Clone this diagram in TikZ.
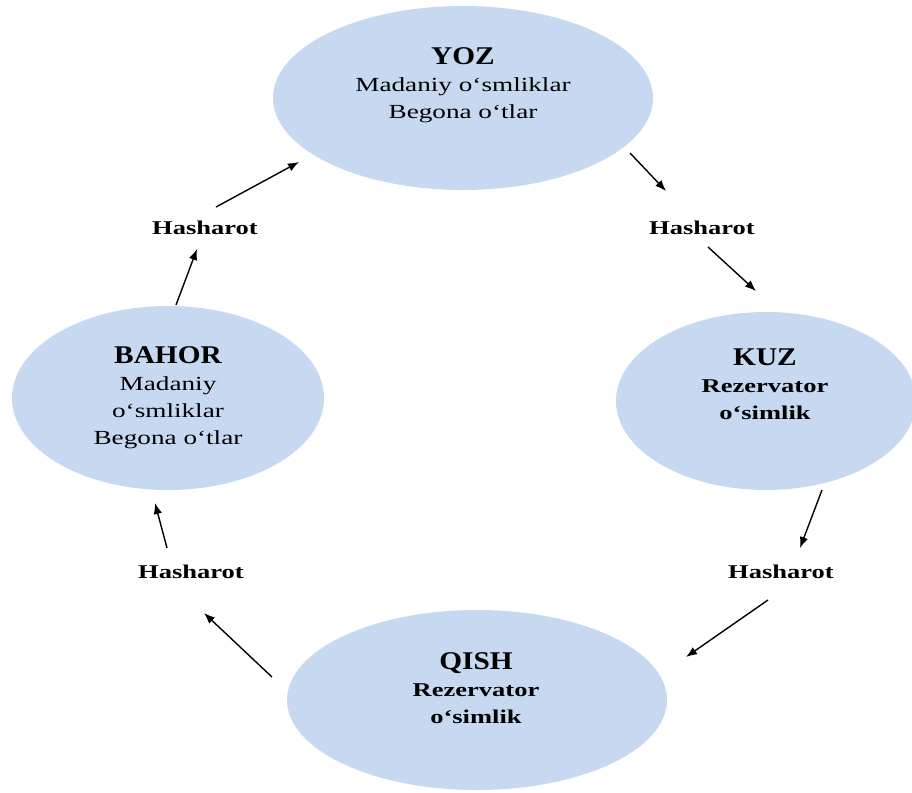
\documentclass[tikz,border=0pt]{standalone}
\usepackage{fontspec}
\setmainfont{Liberation Serif}
\newfontfamily\widefont[FakeStretch=1.36]{Liberation Serif}
\newfontfamily\titlefont[FakeStretch=1.15]{Liberation Serif}
\usetikzlibrary{arrows.meta,shapes.geometric}
\definecolor{ellblue}{RGB}{198,217,240}
\tikzset{
  season/.style={ellipse, fill=ellblue, draw=none, inner sep=0pt},
  blocktext/.style={align=center, inner sep=0pt, font={\widefont\fontsize{20}{27}\selectfont}},
  insect/.style={inner sep=0pt, font={\widefont\bfseries\fontsize{19.5}{24}\selectfont}},
  flow/.style={line width=1.4pt, -{Latex[length=11pt,width=8.5pt]}},
}
\newcommand{\ttl}[1]{{\titlefont\bfseries\fontsize{25.5}{30}\selectfont #1}}
\begin{document}
\begin{tikzpicture}[x=1pt,y=-1pt]
\useasboundingbox (0,0) rectangle (912,792);
% ellipses
\node[season, minimum width=380pt, minimum height=184pt] (yoz) at (463,98) {};
\node[season, minimum width=312pt, minimum height=184pt] (bahor) at (168,398) {};
\node[season, minimum width=300pt, minimum height=178pt] (kuz) at (766,401) {};
\node[season, minimum width=380pt, minimum height=180pt] (qish) at (477,700) {};
% texts
\node[blocktext] (yozt) at (463,85) {\ttl{YOZ}\\Madaniy o‘smliklar\\Begona o‘tlar};
\node[blocktext] (bahort) at (168,398) {\ttl{BAHOR}\\Madaniy\\o‘smliklar\\Begona o‘tlar};
\node[blocktext, font={\widefont\bfseries\fontsize{19.5}{27}\selectfont}] (kuzt) at (765,384) {\ttl{KUZ}\\Rezervator\\o‘simlik};
\node[blocktext, font={\widefont\bfseries\fontsize{19.5}{27}\selectfont}] (qisht) at (476,688) {\ttl{QISH}\\Rezervator\\o‘simlik};
% insect labels
\node[insect] (h1) at (205,228) {Hasharot};
\node[insect] (h2) at (702,228) {Hasharot};
\node[insect] (h3) at (781,572) {Hasharot};
\node[insect] (h4) at (191,572) {Hasharot};
% arrow end points
\coordinate (a1s) at (630,153); \coordinate (a1e) at (666,191);
\coordinate (a2s) at (708,247); \coordinate (a2e) at (756,291);
\coordinate (a3s) at (822,490); \coordinate (a3e) at (800,548);
\coordinate (a4s) at (768,600); \coordinate (a4e) at (686,657);
\coordinate (a5s) at (272,677); \coordinate (a5e) at (204,613);
\coordinate (a6s) at (167,548); \coordinate (a6e) at (155,503);
\coordinate (a7s) at (176,305); \coordinate (a7e) at (197,249);
\coordinate (a8s) at (216,207); \coordinate (a8e) at (299,162);
\draw[flow] (a1s) -- (a1e);
\draw[flow] (a2s) -- (a2e);
\draw[flow] (a3s) -- (a3e);
\draw[flow] (a4s) -- (a4e);
\draw[flow] (a5s) -- (a5e);
\draw[flow] (a6s) -- (a6e);
\draw[flow] (a7s) -- (a7e);
\draw[flow] (a8s) -- (a8e);
\end{tikzpicture}
\end{document}
